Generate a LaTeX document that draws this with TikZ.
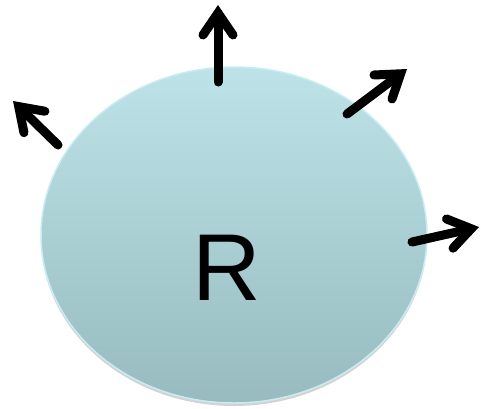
\documentclass[tikz,border=0pt]{standalone}
\usepackage{fontspec}
\setmainfont{Liberation Sans}
\usetikzlibrary{arrows.meta,shadows,shapes.geometric}
\definecolor{topc}{HTML}{BDE3E8}
\definecolor{botc}{HTML}{97BBBF}
\definecolor{rimc}{HTML}{C8ECF2}
\tikzset{
  vec/.style={line width=9pt, line cap=round, -{Straight Barb[length=22pt,width=30pt,line cap=round,line join=miter]},
     drop shadow={opacity=0.25, shadow xshift=1.5pt, shadow yshift=-1.5pt}},
}
\begin{document}
\begin{tikzpicture}[x=1pt,y=-1pt]
\useasboundingbox (0,0) rectangle (481,408);
\node[ellipse, minimum width=386pt, minimum height=336pt, inner sep=0pt,
  top color=topc, bottom color=botc, draw=rimc, line width=1.5pt,
  drop shadow={opacity=0.35, shadow xshift=0pt, shadow yshift=-3pt}] (R) at (234,235) {};
\node[font=\fontsize{95}{95}\selectfont] (lbl) at (227,268) {R};
\coordinate (a1) at (218,82);  \coordinate (b1) at (218,5);
\coordinate (a2) at (347,114); \coordinate (b2) at (407,69);
\coordinate (a3) at (58,145);  \coordinate (b3) at (13,101);
\coordinate (a4) at (412,242); \coordinate (b4) at (479,227);
\draw[vec] (a1) -- (b1);
\draw[vec] (a2) -- (b2);
\draw[vec] (a3) -- (b3);
\draw[vec] (a4) -- (b4);
\end{tikzpicture}
\end{document}
